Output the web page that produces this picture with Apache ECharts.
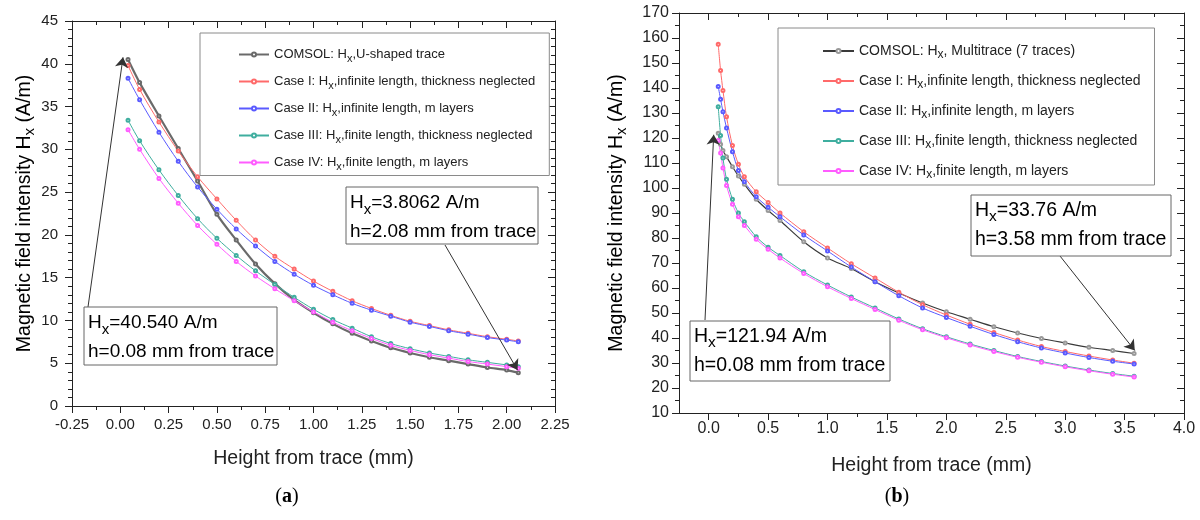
<!DOCTYPE html>
<html><head><meta charset="utf-8">
<script src="https://cdn.jsdelivr.net/npm/echarts@6/dist/echarts.min.js"></script>
<style>html,body{margin:0;padding:0;background:#fff}#c{width:1200px;height:520px}</style>
</head><body><div id="c"></div>
<script>
// ---------- Chart (a): U-shaped trace ----------
const xA = [0.04, 0.1, 0.2, 0.3, 0.4, 0.5, 0.6, 0.7, 0.8, 0.9, 1.0, 1.1, 1.2, 1.3, 1.4, 1.5, 1.6, 1.7, 1.8, 1.9, 2.0, 2.06];
const comsolA = [40.5, 37.8, 33.9, 30.1, 26.3, 22.4, 19.4, 16.6, 14.3, 12.4, 10.9, 9.6, 8.5, 7.6, 6.8, 6.2, 5.7, 5.3, 4.9, 4.5, 4.2, 3.9];
const case1A = [39.8, 37.0, 33.2, 29.8, 26.8, 24.2, 21.7, 19.4, 17.5, 16.0, 14.6, 13.4, 12.3, 11.4, 10.6, 9.9, 9.4, 8.9, 8.5, 8.1, 7.8, 7.6];
const case2A = [38.3, 35.8, 32.0, 28.6, 25.6, 23.0, 20.7, 18.7, 16.9, 15.4, 14.1, 13.0, 12.0, 11.2, 10.5, 9.8, 9.3, 8.8, 8.4, 8.0, 7.7, 7.5];
const case3A = [33.4, 31.0, 27.6, 24.6, 21.9, 19.6, 17.6, 15.8, 14.2, 12.7, 11.3, 10.1, 9.1, 8.1, 7.3, 6.7, 6.2, 5.8, 5.4, 5.1, 4.8, 4.6];
const case4A = [32.3, 30.0, 26.6, 23.7, 21.1, 18.9, 16.9, 15.2, 13.7, 12.3, 11.0, 9.8, 8.8, 7.9, 7.1, 6.5, 6.0, 5.6, 5.2, 4.9, 4.6, 4.4];

// ---------- Chart (b): Multitrace (7 traces) ----------
const xB = [0.08, 0.1, 0.12, 0.15, 0.2, 0.25, 0.3, 0.4, 0.5, 0.6, 0.8, 1.0, 1.2, 1.4, 1.6, 1.8, 2.0, 2.2, 2.4, 2.6, 2.8, 3.0, 3.2, 3.4, 3.58];
const comsolB = [121.9, 117.5, 115.0, 112.5, 108.5, 104.8, 101.5, 95.5, 91.0, 87.0, 78.5, 72.0, 67.8, 62.5, 58.0, 54.0, 50.5, 47.5, 44.5, 42.0, 39.8, 38.0, 36.3, 35.0, 33.8];
const case1B = [157.5, 147.0, 139.0, 128.5, 117.0, 109.5, 104.5, 98.5, 94.2, 90.0, 82.5, 76.0, 69.7, 64.0, 58.3, 53.3, 49.2, 45.5, 42.2, 39.2, 36.6, 34.6, 32.8, 31.2, 29.9];
const case2B = [140.6, 135.5, 130.5, 124.0, 114.5, 107.0, 102.5, 96.5, 92.3, 88.5, 81.2, 74.8, 68.4, 62.5, 56.9, 52.0, 48.2, 44.7, 41.4, 38.5, 36.0, 34.0, 32.2, 30.7, 29.6];
const case3B = [132.5, 121.0, 112.0, 103.5, 95.5, 90.0, 86.5, 80.5, 76.3, 73.0, 66.5, 61.2, 56.4, 52.0, 47.6, 43.7, 40.5, 37.6, 35.0, 32.6, 30.6, 28.8, 27.2, 25.8, 24.7];
const case4B = [119.0, 114.0, 108.0, 101.0, 93.5, 88.5, 85.0, 79.5, 75.5, 72.0, 65.8, 60.5, 55.8, 51.4, 47.1, 43.3, 40.1, 37.2, 34.6, 32.3, 30.3, 28.5, 26.9, 25.5, 24.4];

// ---------- names & ticks ----------
const nameComsolA = 'COMSOL: Hx,U-shaped trace';
const nameComsolB = 'COMSOL: Hx, Multitrace (7 traces)';
const nameCase1 = 'Case I: Hx,infinite length, thickness neglected';
const nameCase2 = 'Case II: Hx,infinite length, m layers';
const nameCase3 = 'Case III: Hx,finite length, thickness neglected';
const nameCase4 = 'Case IV: Hx,finite length, m layers';
const xMajorB = [0, 0.5, 1.0, 1.5, 2.0, 2.5, 3.0, 3.5, 4.0];
const xMinorB = [0.25, 0.75, 1.25, 1.75, 2.25, 2.75, 3.25, 3.75];
const annA1 = ['=40.540 A/m', 'h=0.08 mm from trace'];
const annA2 = ['=3.8062 A/m', 'h=2.08 mm from trace'];
const annB1 = ['=121.94 A/m', 'h=0.08 mm from trace'];
const annB2 = ['=33.76 A/m', 'h=3.58 mm from trace'];
const xTitle = 'Height from trace (mm)';
const yTitle = '{n|Magnetic field intensity H}{s|x}{n| (A/m)}';

const FONT = 'Liberation Sans, Arial, Helvetica, sans-serif';
const AX = '#222';
const colors = { comsolA: '#6a6a6a', comsolB: '#3a3a3a', c1: '#ff6a6a', c2: '#5a5aff', c3: '#3fae9f', c4: '#ff5cff' };

function pairs(xs, ys) { return xs.map((x, i) => [x, ys[i]]); }

function subRich(size, sub, lh, sublh) {
  return {
    n: { fontFamily: FONT, fontSize: size, color: '#222', lineHeight: lh },
    s: { fontFamily: FONT, fontSize: sub, color: '#222', lineHeight: sublh, verticalAlign: 'bottom' }
  };
}
function hxFmt(name) {
  const i = name.indexOf('Hx');
  return '{n|' + name.slice(0, i + 1) + '}{s|x}{n|' + name.slice(i + 2) + '}';
}

function lineSeries(name, xs, ys, color, xi, yi, width, extra) {
  return Object.assign({
    type: 'line', name: name, data: pairs(xs, ys), xAxisIndex: xi, yAxisIndex: yi,
    smooth: 0.3,
    symbol: 'emptyCircle', symbolSize: 3, showAllSymbol: true,
    lineStyle: { color: color, width: width }, itemStyle: { color: color, borderWidth: 1 },
    emphasis: { disabled: true }
  }, extra || {});
}

function arrowLine(items) {
  return {
    silent: true, symbol: ['none', 'arrow'], symbolSize: 10,
    lineStyle: { color: '#333', width: 1, type: 'solid' }, itemStyle: { color: '#111' },
    label: { show: false }, emphasis: { disabled: true }, data: items
  };
}

function valueAxis(grid, pos, min, max, o) {
  return {
    gridIndex: grid, type: 'value', position: pos, min: min, max: max,
    interval: o.interval,
    splitLine: { show: false },
    axisLine: { show: o.line !== false, onZero: false, lineStyle: { color: AX, width: 1 } },
    axisTick: { show: true, inside: !!o.inside, length: o.tickLen || 7, customValues: o.tickValues,
      lineStyle: { color: AX, width: 1 } },
    minorTick: { show: !!o.minor, splitNumber: o.minor || 5, length: 4, lineStyle: { color: AX, width: 1 } },
    axisLabel: o.label ? Object.assign({ show: true, color: AX, fontFamily: FONT }, o.label) : { show: false }
  };
}

const baseOption = {
  backgroundColor: '#fff',
  grid: [
    { left: 72, top: 21, width: 483, height: 385 },
    { left: 679, top: 13, width: 505, height: 400 }
  ],
  xAxis: [
    valueAxis(0, 'bottom', -0.25, 2.25, { interval: 0.25, minor: 2,
      label: { fontSize: 15, margin: 11, formatter: v => v.toFixed(2) } }),
    valueAxis(0, 'top', -0.25, 2.25, { interval: 0.25, minor: 2, inside: true }),
    valueAxis(1, 'bottom', -0.25, 4, { tickValues: xMajorB,
      label: { fontSize: 16, margin: 8, customValues: xMajorB, formatter: v => v.toFixed(1) } }),
    valueAxis(1, 'bottom', -0.25, 4, { tickValues: xMinorB, tickLen: 4, line: false }),
    valueAxis(1, 'top', -0.25, 4, { tickValues: xMajorB, inside: true }),
    valueAxis(1, 'top', -0.25, 4, { tickValues: xMinorB, tickLen: 4, inside: true, line: false })
  ],
  yAxis: [
    valueAxis(0, 'left', 0, 45, { interval: 5, minor: 5, label: { fontSize: 15, margin: 14 } }),
    valueAxis(0, 'right', 0, 45, { interval: 5, minor: 5, inside: true }),
    valueAxis(1, 'left', 10, 170, { interval: 10, minor: 2, label: { fontSize: 16, margin: 10 } }),
    valueAxis(1, 'right', 10, 170, { interval: 10, minor: 2, inside: true })
  ],
  series: [
    lineSeries(nameComsolA, xA, comsolA, colors.comsolA, 0, 0, 2.2, {
      markLine: arrowLine([
        [{ x: 88, y: 307 }, { coord: [0.014, 40.75] }],
        [{ x: 445, y: 245 }, { coord: [2.056, 4.2] }]
      ]) }),
    lineSeries(nameCase1, xA, case1A, colors.c1, 0, 0, 1),
    lineSeries(nameCase2, xA, case2A, colors.c2, 0, 0, 1),
    lineSeries(nameCase3, xA, case3A, colors.c3, 0, 0, 1),
    lineSeries(nameCase4, xA, case4A, colors.c4, 0, 0, 1),
    lineSeries(nameComsolB, xB, comsolB, colors.comsolB, 2, 2, 1.2, {
      itemStyle: { color: '#999', borderWidth: 1 },
      markLine: arrowLine([
        [{ x: 705, y: 320 }, { coord: [0.042, 121.3] }],
        [{ x: 1060, y: 256 }, { coord: [3.586, 35.0] }]
      ]) }),
    lineSeries(nameCase1, xB, case1B, colors.c1, 2, 2, 1),
    lineSeries(nameCase2, xB, case2B, colors.c2, 2, 2, 1),
    lineSeries(nameCase3, xB, case3B, colors.c3, 2, 2, 1),
    lineSeries(nameCase4, xB, case4B, colors.c4, 2, 2, 1)
  ]
};

const legendOption = {
  legend: [
    { orient: 'vertical', left: 200, top: 33, itemWidth: 30, itemHeight: 5, itemGap: 10.5,
      padding: [15, 14, 3, 38], borderColor: '#8a8a8a', borderWidth: 1, backgroundColor: '#fff',
      selectedMode: false, formatter: hxFmt, textStyle: { rich: subRich(13, 11, 20, 11) },
      data: [nameComsolA, nameCase1, nameCase2, nameCase3, nameCase4] },
    { orient: 'vertical', left: 778, top: 28, itemWidth: 31, itemHeight: 5, itemGap: 13,
      padding: [16, 14, 4, 44], borderColor: '#8a8a8a', borderWidth: 1, backgroundColor: '#fff',
      selectedMode: false, formatter: hxFmt, textStyle: { rich: subRich(14, 12, 20, 11) },
      data: [nameComsolB, nameCase1, nameCase2, nameCase3, nameCase4] }
  ]
};

function annBox(x, y, w, h, lines, size, sub) {
  return [
    { type: 'rect', z: 50, shape: { x: x, y: y, width: w, height: h },
      style: { fill: '#fff', stroke: '#666', lineWidth: 1 } },
    { type: 'text', z: 51, x: x + 4, y: y + 1,
      style: { text: '{n|H}{s|x}{n|' + lines[0] + '}\n{n|' + lines[1] + '}',
        rich: subRich(size, sub, 29, 13), verticalAlign: 'top', align: 'left' } }
  ];
}
function caption(letter, x) {
  return { type: 'text', x: x, y: 497,
    style: { text: '{p|(}{b|' + letter + '}{p|)}', align: 'center', verticalAlign: 'middle',
      rich: { p: { fontFamily: 'Liberation Serif, serif', fontSize: 20, color: '#111' },
              b: { fontFamily: 'Liberation Serif, serif', fontSize: 20, fontWeight: 'bold', color: '#111' } } } };
}
function xTitleText(cx, cy) {
  return { type: 'text', x: cx, y: cy,
    style: { text: xTitle, fontFamily: FONT, fontSize: 19.5, fill: AX, align: 'center', verticalAlign: 'middle' } };
}
function yTitleText(cx, cy) {
  return { type: 'text', x: cx, y: cy, rotation: Math.PI / 2,
    style: { text: yTitle, rich: subRich(19.5, 15, 24, 13), align: 'center', verticalAlign: 'middle' } };
}
const graphicOption = {
  graphic: [].concat(
    annBox(84, 307, 193, 58, annA1, 19, 15),
    annBox(346, 187, 192, 57, annA2, 19, 15),
    annBox(690, 321, 200, 60, annB1, 19.5, 15.5),
    annBox(971, 195, 200, 61, annB2, 19.5, 15.5),
    [xTitleText(313.5, 459), xTitleText(931.5, 466), yTitleText(25, 213.5), yTitleText(617, 213),
     caption('a', 287), caption('b', 897)]
  )
};

const chart = echarts.init(document.getElementById('c'), null, { renderer: 'canvas', width: 1200, height: 520 });
chart.setOption(baseOption);
chart.setOption(legendOption);
chart.setOption(graphicOption);
</script>
</body></html>
